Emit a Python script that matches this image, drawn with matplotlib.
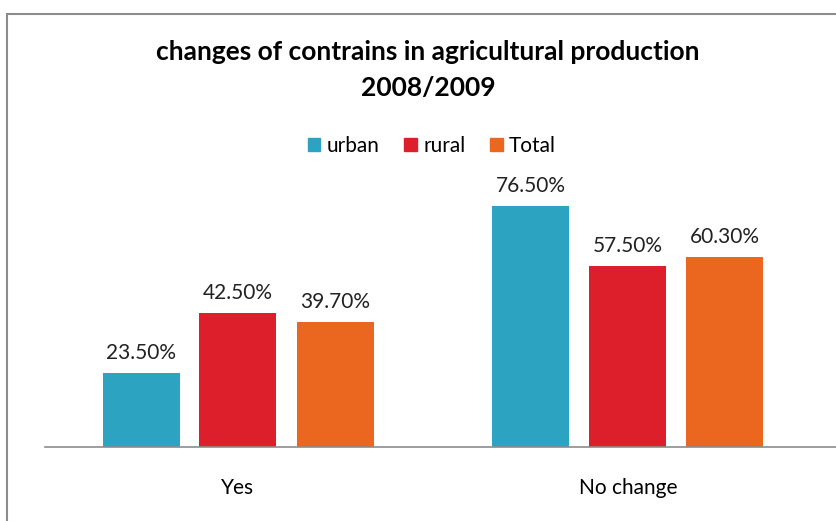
import matplotlib.pyplot as plt
from matplotlib.patches import Rectangle, Patch

categories = ['Yes', 'No change']
series = ['urban', 'rural', 'Total']
urban = [23.5, 76.5]
rural = [42.5, 57.5]
total = [39.7, 60.3]
colors = ['#2CA3C1', '#DC1F2B', '#EB661E']

plt.rcParams['font.family'] = ['Lato', 'DejaVu Sans']

W, H = 837, 521
fig = plt.figure(figsize=(W / 100, H / 100), dpi=100)

# outer chart border (runs off the right and bottom edge)
fig.patches.append(Rectangle((7 / W, -0.1), 1.2, (H - 14) / H + 0.1,
                             transform=fig.transFigure, fill=False,
                             edgecolor='#8c8c8c', linewidth=1.5))

ax = fig.add_axes([45 / W, (H - 447) / H, 1 - 45 / W, (447 - 164) / H])

bar_w = 77 / 390
step = 97 / 390
for i, (name, vals) in enumerate(zip(series, [urban, rural, total])):
    xs = [c + (i - 1) * step for c in range(len(categories))]
    bars = ax.bar(xs, vals, width=bar_w, color=colors[i], label=name)
    for b, v in zip(bars, vals):
        ax.text(b.get_x() + b.get_width() / 2, v + 3.3, f'{v:.2f}%',
                ha='center', va='bottom', fontsize=15, color='#222222')

ax.set_xlim((45 - 238) / 390, (837 - 238) / 390)
ax.set_ylim(0, 90)
ax.set_xticks(range(len(categories)))
ax.set_xticklabels(categories, fontsize=15)
ax.tick_params(axis='x', length=0, pad=22)
ax.set_yticks([])
for s in ['top', 'right', 'left']:
    ax.spines[s].set_visible(False)
ax.spines['bottom'].set_color('#8c8c8c')
ax.spines['bottom'].set_linewidth(1.2)

handles = [Patch(color=c, label=n) for c, n in zip(colors, series)]
fig.legend(handles=handles, loc='center', bbox_to_anchor=(432 / W, 1 - 146 / H),
           ncol=3, frameon=False, fontsize=15, handlelength=0.6,
           handleheight=0.6, handletextpad=0.3, columnspacing=1.2)

fig.text(428 / W, 1 - 52 / H, 'changes of contrains in agricultural production',
         ha='center', va='center', fontsize=19, fontweight='bold')
fig.text(428 / W, 1 - 88 / H, '2008/2009',
         ha='center', va='center', fontsize=19, fontweight='bold')

fig.savefig('out.png', dpi=100)
